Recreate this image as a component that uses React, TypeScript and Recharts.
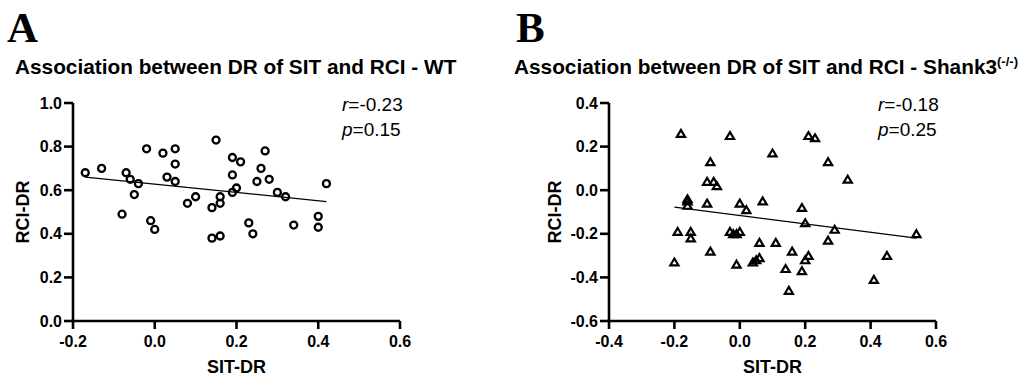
import React from "react";
import { ScatterChart, Scatter, XAxis, YAxis, ReferenceLine, Label } from "recharts";

// WT group: SIT discrimination ratio vs RCI discrimination ratio
const wtSitDr = [
  -0.17, -0.13, -0.07, -0.06, -0.04, -0.05, -0.08, -0.02, -0.01, 0.0,
  0.02, 0.03, 0.05, 0.05, 0.05, 0.08, 0.1, 0.14, 0.16, 0.16,
  0.14, 0.16, 0.15, 0.19, 0.21, 0.19, 0.19, 0.2, 0.23, 0.24,
  0.25, 0.26, 0.27, 0.28, 0.3, 0.32, 0.42, 0.34, 0.4, 0.4,
];
const wtRciDr = [
  0.68, 0.7, 0.68, 0.65, 0.63, 0.58, 0.49, 0.79, 0.46, 0.42,
  0.77, 0.66, 0.79, 0.72, 0.64, 0.54, 0.57, 0.52, 0.57, 0.54,
  0.38, 0.39, 0.83, 0.75, 0.73, 0.67, 0.59, 0.61, 0.45, 0.4,
  0.64, 0.7, 0.78, 0.65, 0.59, 0.57, 0.63, 0.44, 0.48, 0.43,
];

// Shank3 -/- group
const shankSitDr = [
  -0.18, -0.03, -0.09, -0.1, -0.08, -0.07, -0.16, -0.16, -0.16, -0.1,
  0.0, 0.02, -0.19, -0.15, -0.15, -0.09, -0.2, -0.03, -0.02, -0.01,
  0.0, -0.01, 0.07, 0.06, 0.04, 0.05, 0.06, 0.21, 0.23, 0.1,
  0.27, 0.33, 0.19, 0.2, 0.29, 0.54, 0.27, 0.11, 0.16, 0.21,
  0.2, 0.45, 0.14, 0.19, 0.41, 0.15,
];
const shankRciDr = [
  0.26, 0.25, 0.13, 0.04, 0.04, 0.02, -0.04, -0.05, -0.07, -0.06,
  -0.06, -0.09, -0.19, -0.19, -0.22, -0.28, -0.33, -0.19, -0.2, -0.2,
  -0.19, -0.34, -0.05, -0.24, -0.33, -0.32, -0.31, 0.25, 0.24, 0.17,
  0.13, 0.05, -0.08, -0.15, -0.18, -0.2, -0.23, -0.24, -0.28, -0.3,
  -0.32, -0.3, -0.36, -0.37, -0.41, -0.46,
];

// fitted lines as drawn in the figure (end points)
const wtFit = [
  { x: -0.17, y: 0.66 },
  { x: 0.42, y: 0.548 },
];
const shankFit = [
  { x: -0.2, y: -0.078 },
  { x: 0.54, y: -0.22 },
];

const xTicksA = [-0.2, 0, 0.2, 0.4, 0.6];
const yTicksA = [0, 0.2, 0.4, 0.6, 0.8, 1.0];
const xTicksB = [-0.4, -0.2, 0, 0.2, 0.4, 0.6];
const yTicksB = [-0.6, -0.4, -0.2, 0, 0.2, 0.4];

const wtData = wtSitDr.map((x, i) => ({ x, y: wtRciDr[i] }));
const shankData = shankSitDr.map((x, i) => ({ x, y: shankRciDr[i] }));

const SANS = "'Liberation Sans', Arial, sans-serif";
const SERIF = "'Liberation Serif', 'Times New Roman', serif";

const axisStroke = { stroke: "#000", strokeWidth: 2.6 };
const fmt = (v: number) => v.toFixed(1);
const tickText = { fontSize: 16, fontWeight: 700, fontFamily: SANS, fill: "#000" };

const XTick = (props: any) => {
  const { x, y, payload } = props;
  return (
    <text x={x} y={y + 11.5} textAnchor="middle" style={tickText}>
      {fmt(payload.value)}
    </text>
  );
};

const YTick = (props: any) => {
  const { x, y, payload } = props;
  return (
    <text x={x} y={y} textAnchor="end" dominantBaseline="central" style={tickText}>
      {fmt(payload.value)}
    </text>
  );
};

const OpenCircle = (props: any) => (
  <circle cx={props.cx} cy={props.cy} r={3.5} fill="none" stroke="#000" strokeWidth={2.3} />
);

const OpenTriangle = (props: any) => {
  const { cx, cy } = props;
  const d = `M${cx},${cy - 3.6} L${cx + 4.1},${cy + 3.3} L${cx - 4.1},${cy + 3.3} Z`;
  return <path d={d} fill="none" stroke="#000" strokeWidth={2.2} strokeLinejoin="miter" />;
};

const yLabel = (offsetX: number) => (props: any) => {
  const { x, y, height } = props.viewBox;
  const cx = x + offsetX;
  const cy = y + height / 2;
  return (
    <text
      x={cx}
      y={cy}
      transform={`rotate(-90, ${cx}, ${cy})`}
      textAnchor="middle"
      dominantBaseline="central"
      style={{ fontSize: 18, fontWeight: 700, fontFamily: SANS, fill: "#000" }}
    >
      RCI-DR
    </text>
  );
};

const xLabel = (props: any) => {
  const { x, y, width } = props.viewBox;
  return (
    <text
      x={x + width / 2}
      y={y + 51.5}
      textAnchor="middle"
      style={{ fontSize: 18, fontWeight: 700, fontFamily: SANS, fill: "#000" }}
    >
      SIT-DR
    </text>
  );
};

type PanelProps = {
  width: number;
  yAxisWidth: number;
  labelOffset: number;
  xDomain: [number, number];
  yDomain: [number, number];
  xTicks: number[];
  yTicks: number[];
  data: { x: number; y: number }[];
  fit: { x: number; y: number }[];
  shape: (p: any) => React.ReactElement;
  rightMargin: number;
};

function Panel(p: PanelProps) {
  return (
    <ScatterChart
      width={p.width}
      height={376}
      margin={{ top: 103, right: p.rightMargin, bottom: 0, left: 0 }}
    >
      <XAxis
        type="number"
        dataKey="x"
        domain={p.xDomain}
        ticks={p.xTicks}
        tick={<XTick />}
        tickSize={8}
        tickMargin={6}
        stroke="#000"
        axisLine={axisStroke}
        tickLine={axisStroke}
        height={55}
        allowDataOverflow
      >
        <Label content={xLabel} />
      </XAxis>
      <YAxis
        type="number"
        dataKey="y"
        domain={p.yDomain}
        ticks={p.yTicks}
        tick={<YTick />}
        tickSize={9}
        tickMargin={2}
        stroke="#000"
        axisLine={axisStroke}
        tickLine={axisStroke}
        width={p.yAxisWidth}
        allowDataOverflow
      >
        <Label content={yLabel(p.labelOffset)} />
      </YAxis>
      <ReferenceLine segment={p.fit} stroke="#000" strokeWidth={1.2} ifOverflow="visible" />
      <Scatter data={p.data} shape={p.shape} isAnimationActive={false} />
    </ScatterChart>
  );
}

const abs = (left: number, top: number): React.CSSProperties => ({
  position: "absolute",
  left,
  top,
  whiteSpace: "nowrap",
  lineHeight: 1,
});

function Stats({ left, r, p }: { left: number; r: string; p: string }) {
  const s: React.CSSProperties = { fontSize: 19, fontFamily: SANS, color: "#000" };
  return (
    <>
      <div style={{ ...abs(left, 95), ...s }}>
        <i>r</i>={r}
      </div>
      <div style={{ ...abs(left, 119.5), ...s }}>
        <i>p</i>={p}
      </div>
    </>
  );
}

export default function App() {
  const titleStyle: React.CSSProperties = {
    fontSize: 20.8,
    fontWeight: 700,
    fontFamily: SANS,
    color: "#000",
  };
  const letterStyle: React.CSSProperties = {
    fontSize: 43,
    fontWeight: 700,
    fontFamily: SERIF,
    color: "#000",
  };
  return (
    <div style={{ position: "absolute", left: 0, top: 0, width: 1027, height: 376, background: "#fff" }}>
      <div style={{ ...abs(7, 6), ...letterStyle }}>A</div>
      <div style={{ ...abs(516, 6), ...letterStyle }}>B</div>
      <div style={{ ...abs(15, 56.5), ...titleStyle }}>Association between DR of SIT and RCI - WT</div>
      <div style={{ ...abs(514, 56.5), ...titleStyle }}>
        Association between DR of SIT and RCI - Shank3
        <span style={{ fontSize: 13, position: "relative", top: -8 }}>(-/-)</span>
      </div>

      <div style={{ position: "absolute", left: 0, top: 0 }}>
        <Panel
          width={420}
          yAxisWidth={73}
          labelOffset={22.5}
          xDomain={[-0.2, 0.6]}
          yDomain={[0, 1]}
          xTicks={xTicksA}
          yTicks={yTicksA}
          data={wtData}
          fit={wtFit}
          shape={OpenCircle}
          rightMargin={20}
        />
      </div>
      <div style={{ position: "absolute", left: 500, top: 0 }}>
        <Panel
          width={450}
          yAxisWidth={109}
          labelOffset={55}
          xDomain={[-0.4, 0.6]}
          yDomain={[-0.6, 0.4]}
          xTicks={xTicksB}
          yTicks={yTicksB}
          data={shankData}
          fit={shankFit}
          shape={OpenTriangle}
          rightMargin={14}
        />
      </div>

      <Stats left={342} r="-0.23" p="0.15" />
      <Stats left={878} r="-0.18" p="0.25" />
    </div>
  );
}
